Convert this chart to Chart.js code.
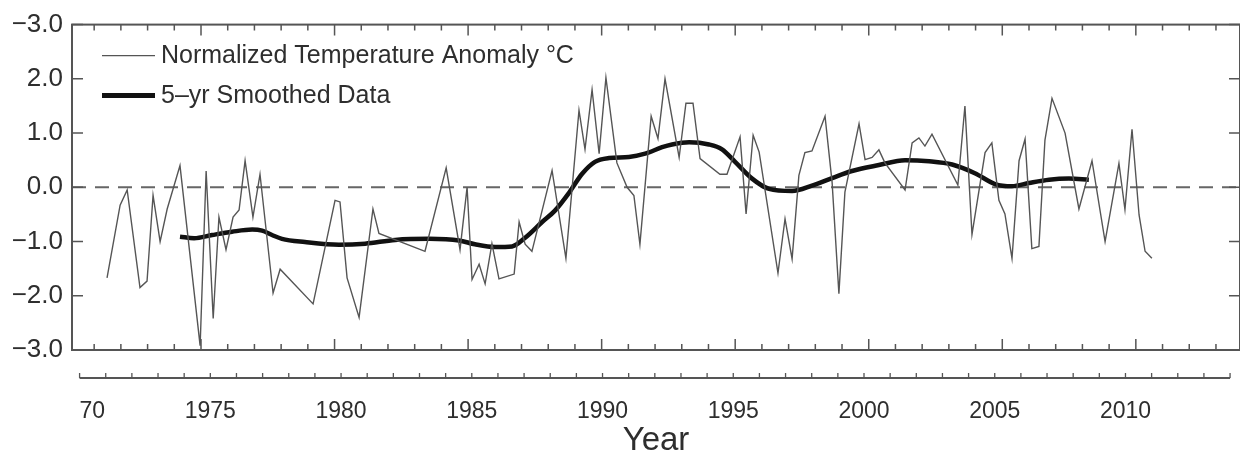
<!DOCTYPE html>
<html>
<head>
<meta charset="utf-8">
<title>Normalized Temperature Anomaly</title>
<script src="https://cdn.jsdelivr.net/npm/chart.js@4.4.1/dist/chart.umd.min.js"></script>
<style>
  html, body { margin: 0; padding: 0; background: #fff; }
  #wrap { width: 1240px; height: 462px; }
</style>
</head>
<body>
<div id="wrap"><canvas id="tempChart"></canvas></div>
<script>
// values (year, anomaly in deg C)
const RAW_YEARS = [1971.05, 1971.55, 1971.82, 1972.31, 1972.58, 1972.81, 1973.08, 1973.35, 1973.84, 1974.61,
    1974.84, 1975.11, 1975.33, 1975.60, 1975.87, 1976.10, 1976.33, 1976.63, 1976.90, 1977.40,
    1977.67, 1978.93, 1979.77, 1979.96, 1980.23, 1980.69, 1981.22, 1981.45, 1983.21, 1984.02,
    1984.55, 1984.82, 1985.01, 1985.28, 1985.51, 1985.77, 1986.04, 1986.62, 1986.81, 1987.04,
    1987.30, 1988.07, 1988.60, 1989.10, 1989.33, 1989.60, 1989.87, 1990.13, 1990.55, 1990.94,
    1991.20, 1991.43, 1991.86, 1992.12, 1992.39, 1992.93, 1993.19, 1993.46, 1993.73, 1994.49,
    1994.76, 1995.26, 1995.49, 1995.76, 1995.99, 1996.71, 1996.98, 1997.25, 1997.51, 1997.74,
    1998.01, 1998.51, 1998.78, 1999.04, 1999.27, 1999.81, 2000.04, 2000.31, 2000.57, 2000.80,
    2001.57, 2001.84, 2002.10, 2002.33, 2002.60, 2003.59, 2003.86, 2004.13, 2004.63, 2004.89,
    2005.16, 2005.39, 2005.66, 2005.93, 2006.16, 2006.42, 2006.69, 2006.92, 2007.19, 2007.69,
    2008.22, 2008.72, 2009.22, 2009.75, 2009.98, 2010.25, 2010.52, 2010.75, 2011.01];
const RAW_ANOMALY = [-1.67, -0.33, -0.05, -1.85, -1.73, -0.15, -1.0, -0.4, 0.4, -2.92,
    0.3, -2.42, -0.55, -1.15, -0.55, -0.42, 0.49, -0.55, 0.24, -1.95,
    -1.51, -2.15, -0.24, -0.27, -1.67, -2.4, -0.4, -0.85, -1.18, 0.36,
    -1.15, 0.0, -1.7, -1.42, -1.78, -1.04, -1.69, -1.6, -0.64, -1.05,
    -1.18, 0.31, -1.31, 1.42, 0.7, 1.8, 0.62, 2.02, 0.45, 0.0,
    -0.15, -1.05, 1.31, 0.9, 2.0, 0.55, 1.55, 1.55, 0.53, 0.24,
    0.24, 0.93, -0.49, 0.96, 0.65, -1.58, -0.58, -1.32, 0.22, 0.64,
    0.67, 1.31, 0.09, -1.96, -0.09, 1.17, 0.51, 0.55, 0.69, 0.45,
    -0.05, 0.82, 0.91, 0.76, 0.98, 0.04, 1.5, -0.87, 0.64, 0.82,
    -0.24, -0.49, -1.31, 0.49, 0.89, -1.13, -1.09, 0.87, 1.64, 1.0,
    -0.4, 0.49, -1.0, 0.44, -0.41, 1.07, -0.51, -1.18, -1.31];

const SMOOTH_YEARS = [1973.84, 1974.38, 1975.07, 1975.83, 1976.60, 1976.98, 1977.36, 1977.74, 1978.62, 1979.92,
    1980.92, 1982.07, 1983.37, 1984.51, 1985.12, 1985.89, 1986.54, 1987.04, 1987.69, 1988.18,
    1988.72, 1989.22, 1989.71, 1990.25, 1991.01, 1991.63, 1992.28, 1992.66, 1993.31, 1994.07,
    1994.57, 1995.07, 1995.72, 1996.37, 1997.25, 1998.01, 1998.78, 1999.54, 2000.57, 2001.57,
    2002.49, 2003.37, 2004.24, 2005.01, 2005.66, 2006.31, 2007.08, 2007.84, 2008.60];
const SMOOTH_ANOMALY = [-0.91, -0.94, -0.88, -0.82, -0.78, -0.8, -0.88, -0.95, -1.01, -1.06,
    -1.04, -0.97, -0.95, -0.98, -1.05, -1.1, -1.09, -0.93, -0.64, -0.43,
    -0.1, 0.25, 0.47, 0.54, 0.56, 0.62, 0.74, 0.79, 0.83, 0.79,
    0.7, 0.47, 0.16, -0.03, -0.07, 0.03, 0.17, 0.3, 0.41, 0.5,
    0.48, 0.42, 0.26, 0.06, 0.02, 0.08, 0.14, 0.16, 0.14];

const YEAR_TICKS = [1970, 1975, 1980, 1985, 1990, 1995, 2000, 2005, 2010];
const Y_TICKS = [-3, -2, -1, 0, 1, 2, 3];
// the top label really reads "-3.0" in the original figure
const Y_TICK_LABELS = ['\u22123.0', '\u22122.0', '\u22121.0', '0.0', '1.0', '2.0', '\u22123.0'];

const SERIES_NAMES = ['Normalized Temperature Anomaly \u00b0C', '5\u2013yr Smoothed Data'];

const FONT = '"Liberation Sans", Arial, Helvetica, sans-serif';
const TEXT = '#2e2e2e';
const AXIS = '#555';

function toPoints(xs, ys) {
    return xs.map((x, i) => ({ x: x, y: ys[i] }));
}

// frame with inward ticks, zero line, separate year axis and in-plot legend
const figureDecor = {
    id: 'figureDecor',
    beforeDatasetsDraw(chart) {
        const { ctx, chartArea: a, scales } = chart;
        const y0 = scales.y.getPixelForValue(0);
        ctx.save();
        ctx.strokeStyle = '#666';
        ctx.lineWidth = 2;
        ctx.setLineDash([14, 9]);
        ctx.beginPath();
        ctx.moveTo(a.left, y0);
        ctx.lineTo(a.right, y0);
        ctx.stroke();
        ctx.restore();
    },
    afterDraw(chart) {
        const { ctx, chartArea: a, scales } = chart;
        ctx.save();
        ctx.strokeStyle = AXIS;
        ctx.lineWidth = 2;
        ctx.strokeRect(a.left, a.top, a.right - a.left, a.bottom - a.top);

        // top / bottom frame ticks
        const f = scales.f;
        ctx.lineWidth = 1.5;
        ctx.beginPath();
        for (let v = Math.ceil(f.min); v <= Math.floor(f.max); v++) {
            const px = f.getPixelForValue(v);
            const len = v % 5 === 0 ? 11 : 6;
            ctx.moveTo(px, a.top);
            ctx.lineTo(px, a.top + len);
            ctx.moveTo(px, a.bottom);
            ctx.lineTo(px, a.bottom - len);
        }
        // left / right frame ticks
        Y_TICKS.forEach(v => {
            const py = scales.y.getPixelForValue(v);
            ctx.moveTo(a.left, py);
            ctx.lineTo(a.left + 11, py);
            ctx.moveTo(a.right, py);
            ctx.lineTo(a.right - 11, py);
        });
        ctx.stroke();

        // separate year axis under the frame
        const x = scales.x;
        const yl = a.bottom + 28;
        ctx.lineWidth = 2;
        ctx.beginPath();
        ctx.moveTo(x.getPixelForValue(1970), yl);
        ctx.lineTo(x.getPixelForValue(2014), yl);
        ctx.stroke();
        ctx.lineWidth = 1.3;
        ctx.beginPath();
        for (let yr = 1970; yr <= 2014; yr++) {
            const px = x.getPixelForValue(yr);
            ctx.moveTo(px, yl);
            ctx.lineTo(px, yl - 5);
        }
        ctx.stroke();

        // the source image is cut off left of the 1970 label
        ctx.fillStyle = '#fff';
        ctx.fillRect(0, yl + 12, x.getPixelForValue(1970), 40);

        // legend inside the plot
        const lx = a.left + 30;
        ctx.font = '25px ' + FONT;
        ctx.fillStyle = TEXT;
        ctx.textBaseline = 'middle';
        ctx.strokeStyle = '#555';
        ctx.lineWidth = 1.4;
        ctx.beginPath();
        ctx.moveTo(lx, a.top + 31);
        ctx.lineTo(lx + 53, a.top + 31);
        ctx.stroke();
        ctx.fillText(SERIES_NAMES[0], lx + 59, a.top + 32);
        ctx.strokeStyle = '#111';
        ctx.lineWidth = 5;
        ctx.beginPath();
        ctx.moveTo(lx, a.top + 71);
        ctx.lineTo(lx + 53, a.top + 71);
        ctx.stroke();
        ctx.fillText(SERIES_NAMES[1], lx + 59, a.top + 72);
        ctx.restore();
    }
};

function initChart() {
    const ctx = document.getElementById('tempChart').getContext('2d');
    new Chart(ctx, {
        type: 'line',
        data: {
            datasets: [
                {
                    label: SERIES_NAMES[0],
                    data: toPoints(RAW_YEARS, RAW_ANOMALY),
                    borderColor: '#555',
                    borderWidth: 1.4,
                    pointRadius: 0,
                    tension: 0
                },
                {
                    label: SERIES_NAMES[1],
                    data: toPoints(SMOOTH_YEARS, SMOOTH_ANOMALY),
                    borderColor: '#111',
                    borderWidth: 4.5,
                    pointRadius: 0,
                    cubicInterpolationMode: 'monotone'
                }
            ]
        },
        options: {
            responsive: true,
            maintainAspectRatio: false,
            animation: false,
            layout: { padding: { top: 20, right: 0, left: 0, bottom: 0 } },
            plugins: {
                legend: { display: false },
                tooltip: { enabled: false }
            },
            scales: {
                x: {
                    type: 'linear',
                    position: 'bottom',
                    min: 1969.71,
                    max: 2014.38,
                    afterBuildTicks: s => { s.ticks = YEAR_TICKS.map(v => ({ value: v })); },
                    afterFit: s => { s.height = 112; },
                    grid: { display: false, drawTicks: false },
                    border: { display: false },
                    ticks: {
                        autoSkip: false,
                        maxRotation: 0,
                        padding: 48,
                        color: TEXT,
                        font: { family: FONT, size: 23 },
                        callback: v => String(v)
                    },
                    title: {
                        display: true,
                        text: 'Year',
                        color: TEXT,
                        font: { family: FONT, size: 33 },
                        padding: { top: 0, bottom: 1 }
                    }
                },
                // plot frame tick scale (its own spacing, not the year axis)
                f: {
                    type: 'linear',
                    axis: 'x',
                    position: 'top',
                    display: false,
                    min: -4.83,
                    max: 38.9
                },
                y: {
                    min: -3,
                    max: 3,
                    afterBuildTicks: s => { s.ticks = Y_TICKS.map(v => ({ value: v })); },
                    afterFit: s => { s.width = 72; },
                    grid: { display: false, drawTicks: false },
                    border: { display: false },
                    ticks: {
                        padding: 9,
                        color: TEXT,
                        font: { family: FONT, size: 26 },
                        callback: (v, i) => Y_TICK_LABELS[i]
                    }
                }
            }
        },
        plugins: [figureDecor]
    });
}

document.addEventListener('DOMContentLoaded', initChart);
</script>
</body>
</html>
